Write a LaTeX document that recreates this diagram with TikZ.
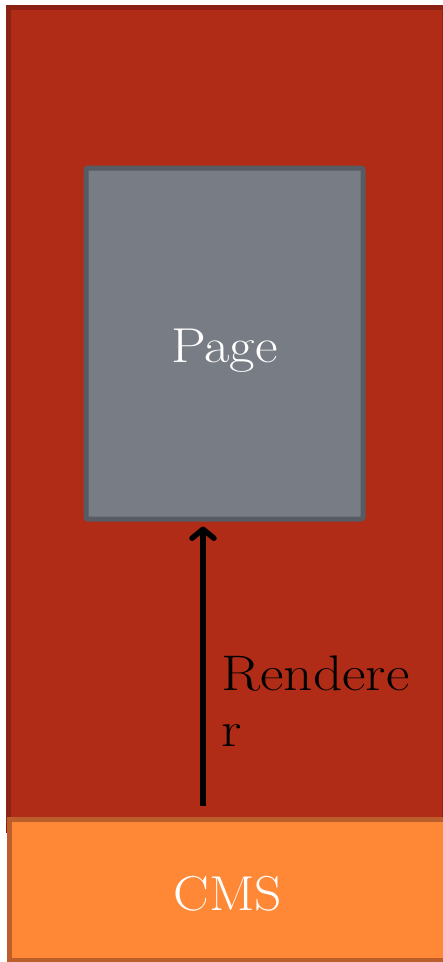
\documentclass[tikz,border=0pt]{standalone}
\usepackage{graphicx}
\usetikzlibrary{arrows.meta}
\definecolor{regfill}{HTML}{B12C17}
\definecolor{regline}{HTML}{8C2213}
\definecolor{pagefill}{HTML}{787C85}
\definecolor{pageline}{HTML}{575B63}
\definecolor{cmsfill}{HTML}{FF8836}
\definecolor{cmsline}{HTML}{BC5E2B}
\tikzset{
  region/.style={draw=regline, fill=regfill, line width=5pt, minimum width=435.5pt, minimum height=822.5pt, inner sep=0pt, outer sep=0pt},
  pagebox/.style={draw=pageline, fill=pagefill, line width=5pt, rounded corners=2pt, minimum width=277pt, minimum height=351pt, inner sep=0pt, text=white, font=\fontsize{49}{56}\selectfont, text height=48pt, text depth=9.5pt},
  cmsbox/.style={draw=cmsline, fill=cmsfill, line width=5pt, minimum width=436.5pt, minimum height=140.5pt, inner sep=0pt, outer sep=0pt, text=white, font=\fontsize{49}{56}\selectfont, text height=42pt, text depth=0pt},
  flow/.style={line width=5.5pt, -{Straight Barb[length=9pt,width=22pt,round]}},
  lbl/.style={inner sep=0pt, align=left, anchor=north west, font=\fontsize{50}{56}\selectfont, text=black}
}
\begin{document}
\begin{tikzpicture}[x=1pt,y=-1pt]
\useasboundingbox (0,0) rectangle (443,962);
\clip (0,0) rectangle (443,962);
\fill[white] (0,0) rectangle (443,962);
\node[region] (reg) at (226.25,418.75) {};
\node[pagebox] (page) at (224.5,343.5) {\scalebox{1.13}[1]{Page}};
\node[cmsbox] (cms) at (227.75,889.75) {\scalebox{1.09}[1]{CMS}};
\coordinate (a0) at (203,806);
\draw[flow, shorten >=5pt] (a0) -- (page.south -| a0);
\node[lbl] (rl) at (221,656) {\scalebox{1.15}[1]{Rendere}\\\scalebox{1.15}[1]{r}};
\end{tikzpicture}
\end{document}
